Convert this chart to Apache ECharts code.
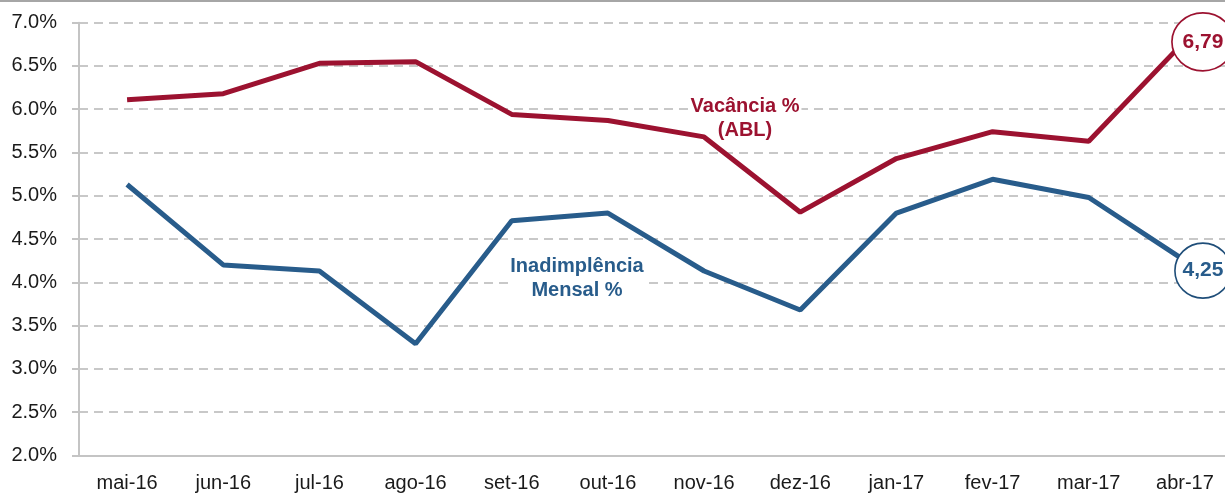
<!DOCTYPE html>
<html>
<head>
<meta charset="utf-8">
<script src="https://cdn.jsdelivr.net/npm/echarts@6/dist/echarts.min.js"></script>
<style>
  html, body { margin: 0; padding: 0; background: #fff; }
  #chart { width: 1225px; height: 493px; }
</style>
</head>
<body>
<div id="chart"></div>
<script>
  // categorias (meses)
  const months = ['mai-16', 'jun-16', 'jul-16', 'ago-16', 'set-16', 'out-16',
    'nov-16', 'dez-16', 'jan-17', 'fev-17', 'mar-17', 'abr-17']
  // Vacância % (ABL)
  const vacancia = [6.11, 6.18, 6.53, 6.55, 5.94, 5.87, 5.68, 4.81, 5.43, 5.74, 5.63, 6.79]
  // Inadimplência Mensal %
  const inadimplencia = [5.13, 4.20, 4.13, 3.29, 4.71, 4.80, 4.13, 3.68, 4.80, 5.19, 4.98, 4.25]
  const yTicks = { min: 2.0, max: 7.0, step: 0.5 }

  const RED = '#9c1230'
  const BLUE = '#285c8b'
  const FONT = '"Liberation Sans", Arial, Helvetica, sans-serif'

  const fmtBR = v => v.toFixed(2).replace('.', ',')

  // balão com o último valor da série
  function lastPoint(data, color, border, size, offset) {
    const i = data.length - 1
    return {
      symbol: 'circle',
      symbolSize: size,
      symbolOffset: offset,
      silent: true,
      itemStyle: { color: '#fff', borderColor: border, borderWidth: 1.6 },
      label: {
        show: true,
        position: 'inside',
        formatter: () => fmtBR(data[i]),
        color: color,
        fontFamily: FONT,
        fontWeight: 'bold',
        fontSize: 21
      },
      data: [{ coord: [i, data[i]] }]
    }
  }

  const chart = echarts.init(document.getElementById('chart'))
  chart.setOption({
    animation: false,
    grid: { left: 79, width: 1154, top: 22.7, bottom: 37.7, outerBoundsMode: 'none' },
    xAxis: {
      type: 'category',
      data: months,
      axisLine: { lineStyle: { color: '#c4c4c4', width: 2 } },
      axisTick: { length: 6, lineStyle: { color: '#c4c4c4', width: 2 } },
      axisLabel: { color: '#1a1a1a', fontSize: 20, fontFamily: FONT, margin: 18 }
    },
    yAxis: {
      type: 'value',
      min: yTicks.min,
      max: yTicks.max,
      interval: yTicks.step,
      axisLine: { show: true, lineStyle: { color: '#c4c4c4', width: 2 } },
      axisTick: { show: true, length: 7, lineStyle: { color: '#c4c4c4', width: 2 } },
      axisLabel: {
        color: '#1a1a1a', fontSize: 20, fontFamily: FONT, margin: 22,
        formatter: v => v.toFixed(1) + '%'
      },
      splitLine: { lineStyle: { color: '#c8c8c8', width: 2, type: [9, 6] } }
    },
    series: [
      {
        name: 'Vacância % (ABL)',
        type: 'line',
        data: vacancia,
        symbol: 'none',
        lineStyle: { color: RED, width: 5 },
        markPoint: lastPoint(vacancia, RED, RED, [62, 58], [18, 1])
      },
      {
        name: 'Inadimplência Mensal %',
        type: 'line',
        data: inadimplencia,
        symbol: 'none',
        lineStyle: { color: BLUE, width: 5 },
        markPoint: lastPoint(inadimplencia, BLUE, '#1f4e79', [56, 55], [18, 10])
      }
    ],
    graphic: [
      {
        type: 'rect',
        left: 0, top: 0,
        shape: { width: 1225, height: 2 },
        style: { fill: '#a6a6a6' }
      },
      {
        type: 'text',
        x: 745, y: 118,
        z: 1,
        style: {
          text: 'Vacância %\n(ABL)',
          fill: RED, font: 'bold 20px ' + FONT,
          align: 'center', verticalAlign: 'middle', lineHeight: 24,
          backgroundColor: '#fff', padding: [0, 2]
        }
      },
      {
        type: 'text',
        x: 577, y: 278,
        z: 1,
        style: {
          text: 'Inadimplência\nMensal %',
          fill: BLUE, font: 'bold 20px ' + FONT,
          align: 'center', verticalAlign: 'middle', lineHeight: 24,
          backgroundColor: '#fff', padding: [0, 2]
        }
      }
    ]
  })
</script>
</body>
</html>
